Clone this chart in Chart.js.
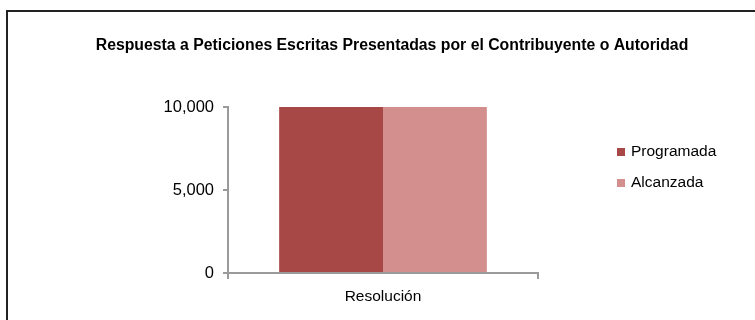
<!DOCTYPE html>
<html>
<head>
<meta charset="utf-8">
<script src="https://cdn.jsdelivr.net/npm/chart.js@4/dist/chart.umd.min.js"></script>
<style>
  html, body { margin: 0; padding: 0; background: #fff; overflow: hidden; }
  #frame {
    position: absolute; left: 6px; top: 10px;
    width: 790px; height: 340px;
    border: 2px solid #222;
  }
  #wrap { position: absolute; left: 0; top: 0; width: 755px; height: 320px; }
</style>
</head>
<body>
<div id="frame"></div>
<div id="wrap"><canvas id="chart"></canvas></div>
<script>
// data
const categories = ["Resolución"];
const seriesNames = ["Programada", "Alcanzada"];
const programada = [10000];
const alcanzada = [10000];
const yTicks = [0, 5000, 10000];
const titleText = "Respuesta a Peticiones Escritas Presentadas por el Contribuyente o Autoridad";

const colors = ["#A84846", "#D38F8E"];
const axisColor = "#9a9a9a";
const font = "'Liberation Sans', Arial, sans-serif";

// title + legend drawn by hand, positioned like the original
const decor = {
  id: "decor",
  afterDraw(chart) {
    const ctx = chart.ctx;
    ctx.save();
    ctx.fillStyle = "#000";
    ctx.textBaseline = "middle";
    ctx.textAlign = "center";
    ctx.font = "bold 15.8px " + font;
    ctx.fillText(titleText, 392, 46);

    ctx.textAlign = "left";
    ctx.font = "15.5px " + font;
    chart.data.datasets.forEach((ds, i) => {
      const y = 152 + i * 31;
      ctx.fillStyle = ds.backgroundColor;
      ctx.fillRect(617, y - 4, 8, 8);
      ctx.fillStyle = "#000";
      ctx.fillText(ds.label, 631, y);
    });
    ctx.restore();
  }
};

new Chart(document.getElementById("chart"), {
  type: "bar",
  data: {
    labels: categories,
    datasets: [
      { label: seriesNames[0], data: programada, backgroundColor: colors[0] },
      { label: seriesNames[1], data: alcanzada, backgroundColor: colors[1] }
    ]
  },
  options: {
    responsive: true,
    maintainAspectRatio: false,
    animation: false,
    events: [],
    categoryPercentage: 0.67,
    barPercentage: 1.0,
    layout: { padding: { left: 0, right: 217, top: 107, bottom: 0 } },
    plugins: {
      legend: { display: false },
      tooltip: { enabled: false },
      title: { display: false }
    },
    scales: {
      x: {
        grid: {
          drawOnChartArea: false,
          drawTicks: true,
          tickLength: 6,
          color: axisColor,
          lineWidth: 2
        },
        border: { color: axisColor, width: 2 },
        ticks: { color: "#000", font: { family: font, size: 15.5 }, padding: 8 },
        afterFit(scale) { scale.height = 47; }
      },
      y: {
        min: 0,
        max: 10000,
        afterBuildTicks(scale) { scale.ticks = yTicks.map(v => ({ value: v })); },
        grid: {
          drawOnChartArea: false,
          drawTicks: true,
          tickLength: 5,
          color: axisColor,
          lineWidth: 2
        },
        border: { color: axisColor, width: 2 },
        ticks: {
          color: "#000",
          font: { family: font, size: 16.5 },
          padding: 9,
          callback: v => v.toLocaleString("en-US")
        },
        afterFit(scale) { scale.width = 228; }
      }
    }
  },
  plugins: [decor]
});
</script>
</body>
</html>
